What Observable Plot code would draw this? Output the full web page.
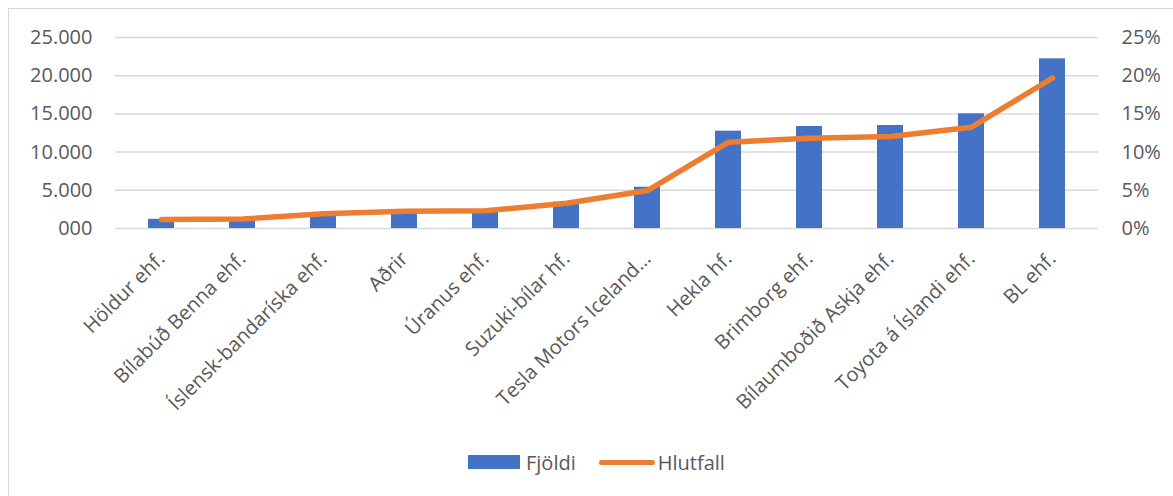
<!DOCTYPE html>
<html><head><meta charset="utf-8">
<script src="https://cdn.jsdelivr.net/npm/d3@7"></script>
<script src="https://cdn.jsdelivr.net/npm/@observablehq/plot@0.6"></script>
<style>
body{margin:0;background:#fff;font-family:"Open Sans",sans-serif;}
#wrap{position:relative;width:1173px;height:496px;overflow:hidden;}
#frame{position:absolute;left:8px;top:8px;width:1300px;height:600px;border-left:1.5px solid #d9d9d9;border-top:1.5px solid #d9d9d9;}
#chart{position:absolute;left:0;top:0;}
#legend{position:absolute;top:450px;left:468px;height:24px;display:flex;align-items:center;font-size:20px;color:#595959;}
#legend .sw{width:52px;height:14px;background:#4472C4;margin-right:6px;}
#legend .ln{width:56px;height:5px;border-radius:3px;background:#ED7D31;margin-left:23px;margin-right:3px;}
</style></head><body>
<div id="wrap"><div id="frame"></div><div id="chart"></div>
<div id="legend"><div class="sw"></div><span>Fjöldi</span><div class="ln"></div><span>Hlutfall</span></div></div>
<script>
const categories = ["Höldur ehf.","Bílabúð Benna ehf.","Íslensk-bandaríska ehf.","Aðrir","Úranus ehf.","Suzuki-bílar hf.","Tesla Motors Iceland…","Hekla hf.","Brimborg ehf.","Bílaumboðið Askja ehf.","Toyota á Íslandi ehf.","BL ehf."];
const counts = [1200,1100,1700,2100,2250,3440,5400,12740,13350,13480,15010,22210];
const shares = [1.18,1.24,1.93,2.27,2.31,3.3,4.97,11.3,11.8,12.04,13.26,19.7];
const yTicks = [0,5000,10000,15000,20000,25000];
const yTickLabels = ["000","5.000","10.000","15.000","20.000","25.000"];
const pctTickLabels = ["0%","5%","10%","15%","20%","25%"];
const pctMax = 25, countMax = 25000;

const data = categories.map((c,i)=>({c, n:counts[i], p:shares[i]}));
const chart = Plot.plot({
  width:1173, height:440, marginLeft:115, marginRight:75, marginTop:37, marginBottom:212,
  style:{fontFamily:"Open Sans", fontSize:"20px", color:"#595959", background:"transparent", overflow:"visible"},
  x:{domain:categories, paddingInner:0.68, paddingOuter:0.34, label:null},
  y:{domain:[0,countMax], label:null},
  marks:[
    Plot.gridY(yTicks,{stroke:"#d9d9d9", strokeOpacity:1, strokeWidth:1.5}),
    Plot.barY(data,{x:"c", y:"n", fill:"#4472C4"}),
    Plot.line(data,{x:"c", y:d=>d.p/pctMax*countMax, stroke:"#ED7D31", strokeWidth:5.5, strokeLinecap:"round", strokeLinejoin:"round"}),
    Plot.axisY({ticks:yTicks, tickFormat:d=>yTickLabels[yTicks.indexOf(d)], tickSize:0, tickPadding:23, anchor:"left", label:null, fill:"#595959"}),
    Plot.axisY({ticks:yTicks, tickFormat:d=>pctTickLabels[yTicks.indexOf(d)], tickSize:0, tickPadding:23, anchor:"right", label:null, fill:"#595959"}),
    Plot.axisX({tickRotate:-45, tickSize:0, tickPadding:27, label:null, fill:"#595959"})
  ]
});
document.getElementById("chart").appendChild(chart);
</script>
</body></html>
